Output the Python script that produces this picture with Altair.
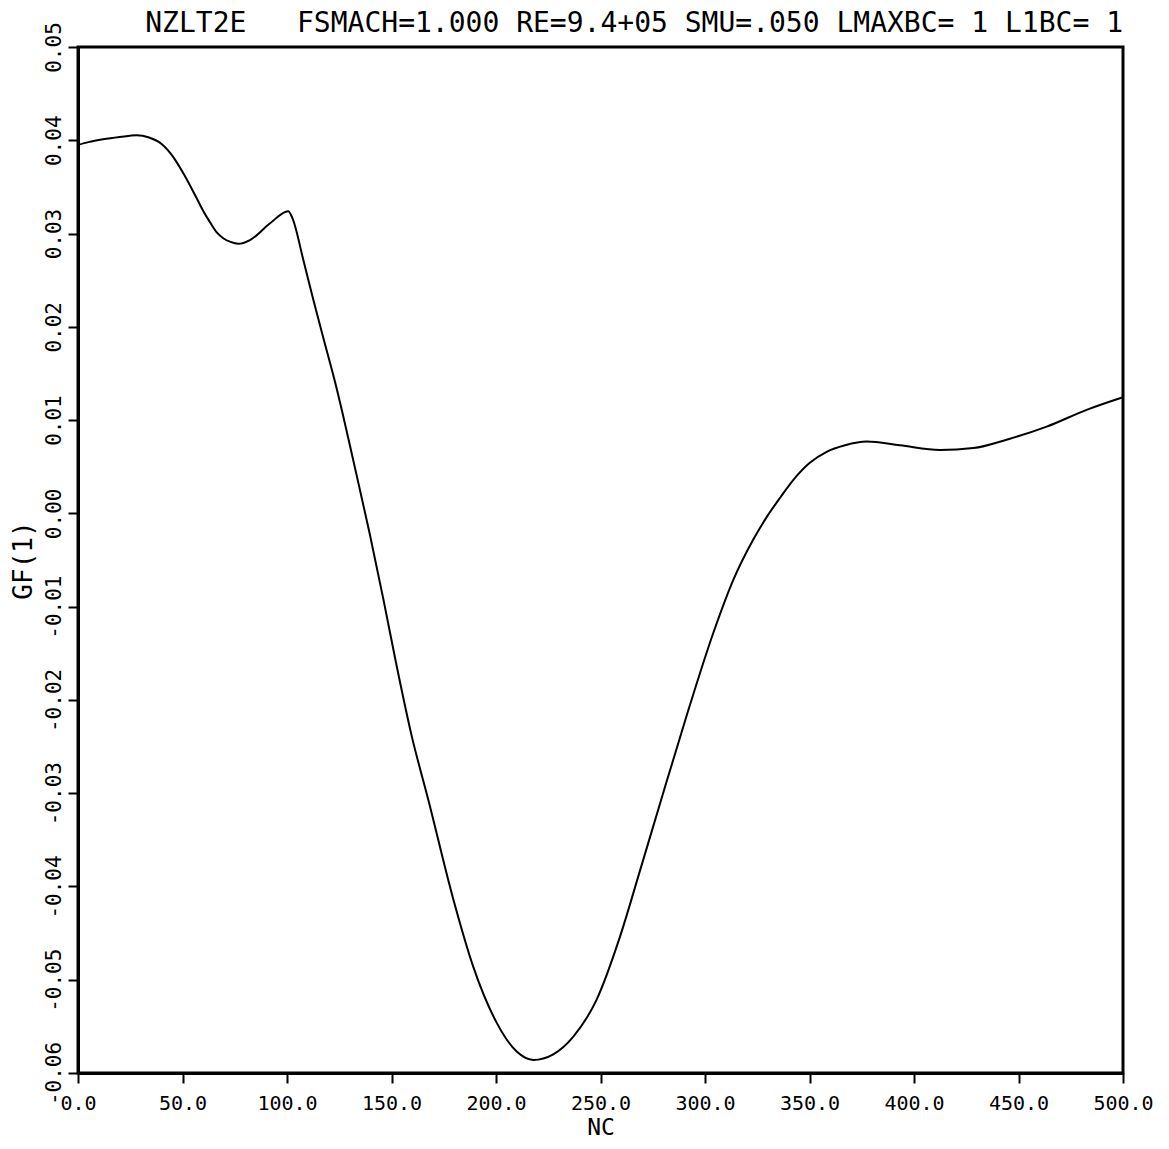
import altair as alt
import pandas as pd

NC = [0, 5, 12, 20, 28, 34, 40, 45.6, 50.4, 56.8, 60, 63.2, 66.5, 69.5, 73, 76.7,
      82.3, 91.9, 100.6, 102.5, 108, 112.6, 118, 123.2, 132.5, 139.5, 146.2,
      152.6, 159.6, 167.6, 179.6, 189.1, 200.3, 209.9, 217.9, 227.4, 237, 248.2,
      259.3, 268.9, 278.5, 291.2, 304, 313.6, 323.1, 329.5, 336, 342.3, 350,
      358.2, 367, 377.4, 393.3, 412.4, 428.4, 444.3, 463.5, 482.6, 500]
GF = [0.0395, 0.0398, 0.0401, 0.04035, 0.04054, 0.0403, 0.0396, 0.0382, 0.03646,
      0.03378, 0.0324, 0.0312, 0.0301, 0.0295, 0.0291, 0.0289, 0.0293, 0.0311,
      0.0324, 0.0317, 0.0270, 0.0229, 0.0183, 0.0139, 0.0049, -0.0021, -0.0093,
      -0.0165, -0.0238, -0.0307, -0.0414, -0.0486, -0.0546, -0.0577, -0.0586,
      -0.0580, -0.0561, -0.0521, -0.0454, -0.0383, -0.0311, -0.0217, -0.0128,
      -0.0071, -0.0028, -0.0004, 0.0017, 0.0036, 0.0054, 0.0066, 0.0073,
      0.0077, 0.0073, 0.0068, 0.0070, 0.0079, 0.0093, 0.0111, 0.01245]

X_TICKS = [0, 50, 100, 150, 200, 250, 300, 350, 400, 450, 500]
Y_TICKS = [0.05, 0.04, 0.03, 0.02, 0.01, 0.0, -0.01, -0.02, -0.03, -0.04, -0.05, -0.06]

TITLE = "NZLT2E\u00a0\u00a0\u00a0FSMACH=1.000 RE=9.4+05 SMU=.050 LMAXBC=\u00a01 L1BC=\u00a01"

df = pd.DataFrame({"NC": NC, "GF": GF})

FONT = "DejaVu Sans Mono"

chart = (
    alt.Chart(df)
    .mark_line(color="black", strokeWidth=2, interpolate="monotone")
    .encode(
        x=alt.X(
            "NC:Q",
            scale=alt.Scale(domain=[0, 500], nice=False, zero=False),
            axis=alt.Axis(
                title="NC",
                values=X_TICKS,
                format=".1f",
                grid=False,
                domainColor="black",
                domainWidth=3,
                tickColor="black",
                tickWidth=2,
                tickSize=10,
                labelFont=FONT,
                labelFontSize=20,
                labelColor="black",
                labelPadding=10,
                labelFlush=False,
                titleFont=FONT,
                titleFontSize=23,
                titleFontWeight="normal",
                titleColor="black",
                titlePadding=3,
            ),
        ),
        y=alt.Y(
            "GF:Q",
            scale=alt.Scale(domain=[-0.06, 0.05], nice=False, zero=False),
            axis=alt.Axis(
                title="GF(1)",
                values=Y_TICKS,
                labelExpr="replace(format(datum.value, '.2f'), '\u2212', '-')",
                grid=False,
                domainColor="black",
                domainWidth=3,
                tickColor="black",
                tickWidth=2,
                tickSize=10,
                labelFont=FONT,
                labelFontSize=21,
                labelColor="black",
                labelAngle=-90,
                labelAlign="center",
                labelBaseline="bottom",
                labelPadding=4,
                labelFlush=False,
                titleFont=FONT,
                titleFontSize=26,
                titleFontWeight="normal",
                titleColor="black",
                titlePadding=7,
            ),
        ),
    )
    .properties(
        width=1045,
        height=1026,
        background="white",
        autosize=alt.AutoSizeParams(type="none"),
        padding={"left": 70, "top": 39, "right": 38, "bottom": 68},
        title=alt.TitleParams(
            text=TITLE,
            font=FONT,
            fontSize=28,
            fontWeight="normal",
            color="black",
            anchor="end",
            frame="group",
            offset=12,
            dy=28,
        ),
    )
    .configure_view(stroke="black", strokeWidth=3)
)

chart.save("out.html", embed_options={"renderer": "svg", "actions": False})
